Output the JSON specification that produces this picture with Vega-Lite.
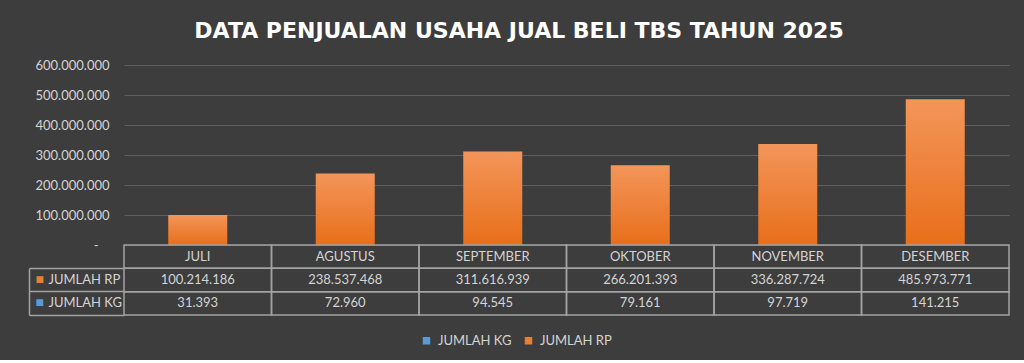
{
  "$schema": "https://vega.github.io/schema/vega-lite/v6.json",
  "background": "#3d3d3d",
  "padding": {"left": 28, "right": 16, "top": 20, "bottom": 12},
  "bounds": "flush",
  "title": {"text": "DATA PENJUALAN USAHA JUAL BELI TBS TAHUN 2025", "color": "#ffffff", "font": "DejaVu Sans", "fontSize": 22, "fontWeight": "bold", "anchor": "middle", "offset": 16},
  "datasets": {
    "jual": [
      {"bulan": "JULI", "JUMLAH RP": 100214186, "JUMLAH KG": 31393},
      {"bulan": "AGUSTUS", "JUMLAH RP": 238537468, "JUMLAH KG": 72960},
      {"bulan": "SEPTEMBER", "JUMLAH RP": 311616939, "JUMLAH KG": 94545},
      {"bulan": "OKTOBER", "JUMLAH RP": 266201393, "JUMLAH KG": 79161},
      {"bulan": "NOVEMBER", "JUMLAH RP": 336287724, "JUMLAH KG": 97719},
      {"bulan": "DESEMBER", "JUMLAH RP": 485973771, "JUMLAH KG": 141215}
    ]
  },
  "spacing": 0,
  "vconcat": [
    {
      "width": 885,
      "height": 180,
      "data": {"name": "jual"},
      "transform": [{"fold": ["JUMLAH KG", "JUMLAH RP"], "as": ["seri", "nilai"]}],
      "mark": {"type": "bar", "width": {"band": 0.4}},
      "encoding": {
        "x": {"field": "bulan", "type": "nominal", "sort": ["JULI", "AGUSTUS", "SEPTEMBER", "OKTOBER", "NOVEMBER", "DESEMBER"], "scale": {"paddingInner": 0, "paddingOuter": 0}, "axis": null},
        "y": {"field": "nilai", "type": "quantitative", "stack": null, "scale": {"domain": [0, 600000000], "nice": false},
          "axis": {"values": [0, 100000000, 200000000, 300000000, 400000000, 500000000, 600000000], "format": ",.0f", "labelExpr": "datum.value === 0 ? '-' : datum.label", "domain": false, "ticks": false, "labelColor": "#d4d4d4", "labelFontSize": 13, "labelFont": "Lato",
            "labelPadding": {"condition": {"test": "datum.value === 0", "value": 26}, "value": 15},
            "gridColor": "#5e5e5e", "gridWidth": 1, "title": null}},
        "color": {"field": "seri", "type": "nominal",
          "scale": {"domain": ["JUMLAH KG", "JUMLAH RP"], "range": ["#5b9bd5", "#ed7d31"]},
          "condition": {"test": "datum.seri === 'JUMLAH RP'", "value": {"gradient": "linear", "x1": 0, "y1": 0, "x2": 0, "y2": 1, "stops": [{"offset": 0, "color": "#f3955a"}, {"offset": 1, "color": "#e86f1a"}]}},
          "legend": {"orient": "none", "legendX": 296, "legendY": 269, "direction": "horizontal", "title": null, "symbolType": "square", "symbolSize": 56, "symbolStrokeWidth": 0, "labelOffset": 5, "labelColor": "#d4d4d4", "labelFontSize": 13, "labelFont": "Lato", "columnPadding": 10}}
      }
    },
    {
      "width": 885,
      "height": 70,
      "data": {"name": "jual"},
      "transform": [{"fold": ["JUMLAH RP", "JUMLAH KG"], "as": ["seri", "nilai"]}],
      "encoding": {
        "x": {"field": "bulan", "type": "nominal", "sort": ["JULI", "AGUSTUS", "SEPTEMBER", "OKTOBER", "NOVEMBER", "DESEMBER"], "scale": {"paddingInner": 0, "paddingOuter": 0}, "axis": null}
      },
      "layer": [
        {
          "mark": {"type": "rect", "fill": "transparent", "stroke": "#a3a3a3", "strokeWidth": 1.5},
          "encoding": {
            "y": {"field": "seri", "type": "nominal", "scale": {"domain": ["BULAN", "JUMLAH RP", "JUMLAH KG"], "paddingInner": 0, "paddingOuter": 0},
              "axis": {"orient": "left", "title": null, "domain": false, "grid": false, "ticks": true, "tickSize": 95, "tickWidth": 1.5, "bandPosition": 1, "tickExtra": false, "tickColor": "#a3a3a3",
                "labelExpr": "datum.value === 'BULAN' ? '' : datum.value", "labelAlign": "left", "labelPadding": -19, "labelColor": "#d4d4d4", "labelFontSize": 13, "labelFont": "Lato"}}
          }
        },
        {
          "transform": [{"filter": "datum.seri === 'JUMLAH RP'"}],
          "mark": {"type": "rect", "fill": "transparent", "stroke": "#a3a3a3", "strokeWidth": 1.5},
          "encoding": {"y": {"datum": "BULAN", "type": "nominal", "axis": null}}
        },
        {
          "mark": {"type": "text", "color": "#d4d4d4", "fontSize": 13, "font": "Lato", "align": "center", "baseline": "middle"},
          "encoding": {
            "y": {"field": "seri", "type": "nominal",
              "axis": {"orient": "left", "title": null, "offset": 95, "domain": true, "domainColor": "#a3a3a3", "domainWidth": 1.5, "domainDash": [0, 23.33, 46.67, 0], "ticks": false, "grid": false,
                "labelExpr": "datum.value === 'BULAN' ? '' : '■'", "labelAlign": "left", "labelPadding": -6, "labelFontSize": 14,
                "labelColor": {"condition": {"test": "datum.value === 'JUMLAH RP'", "value": "#ed7d31"}, "value": "#5b9bd5"}}},
            "text": {"field": "nilai", "type": "quantitative", "format": ",.0f"}
          }
        },
        {
          "transform": [{"filter": "datum.seri === 'JUMLAH RP'"}],
          "mark": {"type": "text", "color": "#d4d4d4", "fontSize": 13, "font": "Lato", "align": "center", "baseline": "middle"},
          "encoding": {"y": {"datum": "BULAN", "type": "nominal", "axis": null}, "text": {"field": "bulan", "type": "nominal"}}
        }
      ],
      "resolve": {"axis": {"y": "independent"}}
    }
  ],
  "config": {
    "locale": {"number": {"decimal": ",", "thousands": ".", "grouping": [3], "currency": ["Rp", ""]}},
    "view": {"stroke": null},
    "axis": {"labelFont": "Lato"}
  }
}
